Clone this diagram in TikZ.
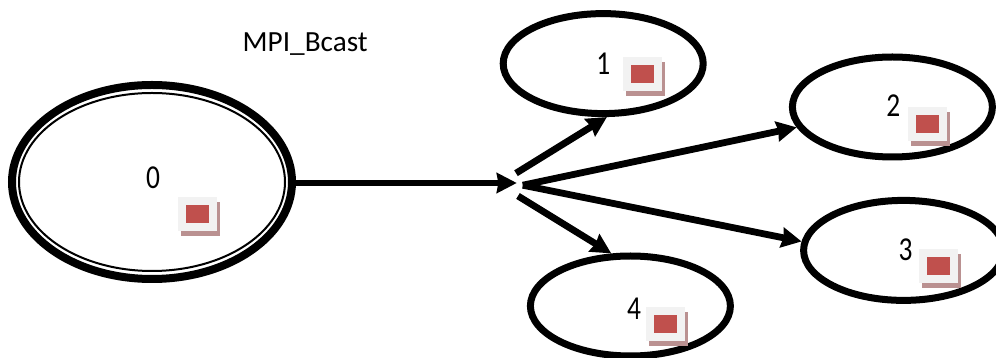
\documentclass[tikz,border=0pt]{standalone}
\usepackage{fontspec}
\setmainfont{Carlito}
\newfontfamily\rankfont[FakeStretch=.82]{Carlito}
\usetikzlibrary{shapes.geometric,arrows.meta}
\tikzset{
  proc/.style={ellipse, draw, line width=.175cm, minimum width=5cm, minimum height=2.5cm, inner sep=0pt},
  rootproc/.style={ellipse, draw, line width=.2cm, minimum width=7cm, minimum height=4.85cm, inner sep=0pt},
  rootring/.style={ellipse, draw, line width=.05cm, minimum width=6.65cm, minimum height=4.45cm, inner sep=0pt},
  rank/.style={font=\rankfont\fontsize{23.8}{24}\selectfont, inner sep=0pt},
  titletext/.style={font=\fontsize{20.8}{21}\selectfont, inner sep=0pt, anchor=base},
  bcastline/.style={-{Stealth[length=.5cm,width=.5cm,inset=.04cm]}, line width=.17cm},
  iconshadow/.style={fill=iconshade, minimum width=.975cm, minimum height=.85cm, inner sep=0pt},
  iconback/.style={fill=iconpale, minimum width=.975cm, minimum height=.85cm, inner sep=0pt},
  iconfront/.style={fill=iconred, minimum width=.575cm, minimum height=.45cm, inner sep=0pt},
}
\definecolor{iconshade}{RGB}{186,145,145}
\definecolor{iconpale}{RGB}{242,242,242}
\definecolor{iconred}{RGB}{192,80,77}
\newcommand{\msgicon}[2]{
  \node [iconshadow] (#2s) at ([shift={(.075,-.125)}]#1) {};
  \node [iconback] (#2b) at (#1) {};
  \node [iconfront] (#2f) at (#1) {};
}
\begin{document}
\begin{tikzpicture}
\useasboundingbox (0,0) rectangle (24.9,8.95);

\node [rootproc] (p0) at (3.8,4.4) {};
\node [rootring] (p0ring) at (3.8,4.4) {};
\node [proc] (p1) at (15.08,7.36) {};
\node [proc] (p2) at (22.31,6.275) {};
\node [proc] (p3) at (22.59,2.69) {};
\node [proc] (p4) at (15.76,1.3) {};

\node [rank] (r0) at (3.83,4.5) {0};
\node [rank] (r1) at (15.08,7.36) {1};
\node [rank] (r2) at (22.33,6.3) {2};
\node [rank] (r3) at (22.64,2.7) {3};
\node [rank] (r4) at (15.85,1.23) {4};

\msgicon{4.94,3.6}{m0}
\msgicon{16.05,7.09}{m1}
\msgicon{23.19,5.86}{m2}
\msgicon{23.45,2.31}{m3}
\msgicon{16.64,.84}{m4}

\node [titletext] (title) at (7.63,7.65) {MPI\_Bcast};

\coordinate (hub) at (12.92,4.375);
\coordinate (out1) at (12.9,4.62);
\coordinate (out23) at (13.07,4.32);
\coordinate (out4) at (12.95,4.05);

\draw [bcastline] (p0.east |- hub) -- (hub);
\draw [bcastline] (out1) -- (p1.274.4);
\draw [bcastline] (out23) -- (p2.192.4);
\draw [bcastline] (out23) -- (p3.175.2);
\draw [bcastline] (out4) -- (p4.110);

\end{tikzpicture}
\end{document}
